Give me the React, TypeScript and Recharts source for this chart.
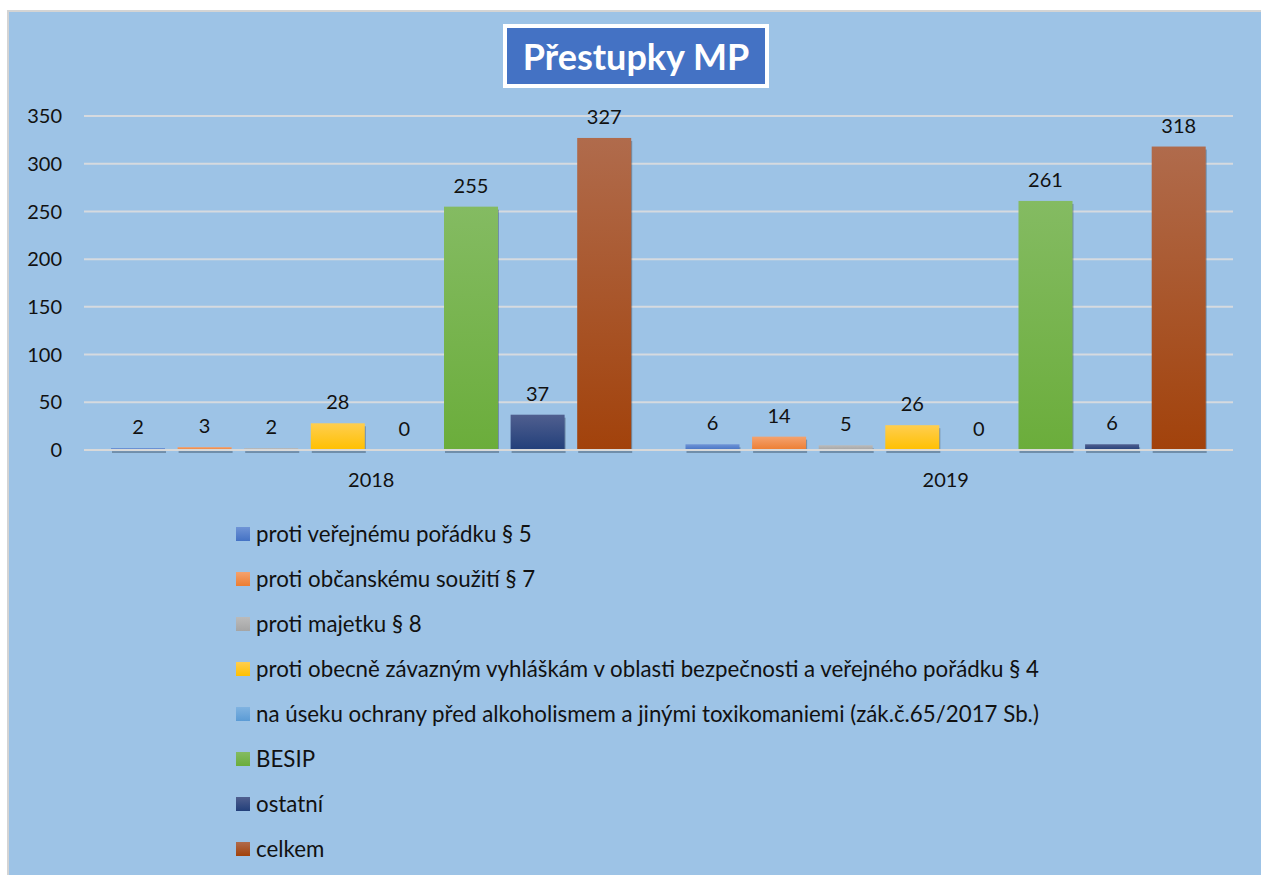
import { BarChart, Bar, XAxis, YAxis, CartesianGrid, LabelList } from "recharts";

const years = ["2018", "2019"];

const seriesNames = [
    "proti veřejnému pořádku § 5",
    "proti občanskému soužití § 7",
    "proti majetku § 8",
    "proti obecně závazným vyhláškám v oblasti bezpečnosti a veřejného pořádku § 4",
    "na úseku ochrany před alkoholismem a jinými toxikomaniemi (zák.č.65/2017 Sb.)",
    "BESIP",
    "ostatní",
    "celkem",
];

const verejnyPoradek = [2, 6];
const obcanskeSouziti = [3, 14];
const majetek = [2, 5];
const vyhlasky = [28, 26];
const alkoholismus = [0, 0];
const besip = [255, 261];
const ostatni = [37, 6];
const celkem = [327, 318];

const yTicks = [0, 50, 100, 150, 200, 250, 300, 350];

// gradient top / bottom per series
const COLORS = [
    ["#6F94D6", "#4472C4"],
    ["#F4A26E", "#ED7D31"],
    ["#BBBBBB", "#A5A5A5"],
    ["#FFCE50", "#FFC000"],
    ["#80B3E1", "#5B9BD5"],
    ["#84BB62", "#6BAD3B"],
    ["#505F8F", "#223F7A"],
    ["#B06B4C", "#A2420B"],
];

const seriesValues = [verejnyPoradek, obcanskeSouziti, majetek, vyhlasky, alkoholismus, besip, ostatni, celkem];

const data = years.map((year, i) => {
    const row: Record<string, string | number> = { year };
    seriesValues.forEach((vals, s) => {
        row[`s${s}`] = vals[i];
    });
    return row;
});

const FONT = "Lato, 'Open Sans', sans-serif";

const ShadowBar = (props: any) => {
    const { x, y, width, height, fill } = props;
    if (!height || height <= 0) return null;
    return (
        <g>
            <rect x={x + 1} y={y + 3} width={width} height={height} fill="#1E2B3A" fillOpacity={0.35} />
            <rect x={x} y={y} width={width} height={height} fill={fill} />
        </g>
    );
};

export default function App() {
    return (
        <div style={{ position: "absolute", left: 0, top: 0, width: 1261, height: 875, background: "#fff", overflow: "hidden", fontFamily: FONT }}>
            <div
                style={{
                    position: "absolute",
                    left: 7,
                    top: 10,
                    width: 1254,
                    height: 865,
                    boxSizing: "border-box",
                    borderLeft: "2px solid #D4D4D4",
                    borderTop: "2px solid #D4D4D4",
                    background: "#9DC3E6",
                }}
            >
                <BarChart
                    width={1252}
                    height={863}
                    data={data}
                    margin={{ top: 104, right: 28, left: 0, bottom: 365 }}
                    barSize={54}
                    barGap={12.6}
                >
                    <defs>
                        {COLORS.map((c, i) => (
                            <linearGradient key={i} id={`grad${i}`} x1="0" y1="0" x2="0" y2="1">
                                <stop offset="0%" stopColor={c[0]} />
                                <stop offset="100%" stopColor={c[1]} />
                            </linearGradient>
                        ))}
                    </defs>
                    <CartesianGrid vertical={false} stroke="#D6DADF" strokeWidth={2} />
                    <XAxis
                        dataKey="year"
                        height={60}
                        axisLine={{ stroke: "#D9D9D9", strokeWidth: 2 }}
                        tickLine={false}
                        tickMargin={17}
                        tick={{ fill: "#111", fontSize: 20, fontFamily: FONT }}
                    />
                    <YAxis
                        width={75}
                        domain={[0, 350]}
                        ticks={yTicks}
                        axisLine={false}
                        tickLine={false}
                        tickMargin={16}
                        tick={{ fill: "#111", fontSize: 20, fontFamily: FONT }}
                    />
                    {seriesNames.map((name, i) => (
                        <Bar
                            key={name}
                            dataKey={`s${i}`}
                            name={name}
                            fill={`url(#grad${i})`}
                            shape={ShadowBar}
                            isAnimationActive={false}
                        >
                            <LabelList
                                dataKey={`s${i}`}
                                position="top"
                                offset={14}
                                style={{ fill: "#111", fontSize: 20, fontFamily: FONT }}
                            />
                        </Bar>
                    ))}
                </BarChart>
            </div>

            <div
                style={{
                    position: "absolute",
                    left: 503,
                    top: 24,
                    width: 266,
                    height: 64,
                    boxSizing: "border-box",
                    border: "4px solid #fff",
                    background: "#4472C4",
                    color: "#fff",
                    fontWeight: 700,
                    fontSize: 36,
                    display: "flex",
                    alignItems: "center",
                    justifyContent: "center",
                }}
            >
                Přestupky MP
            </div>

            <ul style={{ position: "absolute", left: 236, top: 511, margin: 0, padding: 0, listStyle: "none" }}>
                {seriesNames.map((name, i) => (
                    <li key={name} style={{ display: "flex", alignItems: "center", height: 45, fontSize: 22.3, color: "#111" }}>
                        <span
                            style={{
                                width: 14,
                                height: 14,
                                marginRight: 6,
                                background: `linear-gradient(${COLORS[i][0]}, ${COLORS[i][1]})`,
                            }}
                        />
                        {name}
                    </li>
                ))}
            </ul>
        </div>
    );
}
